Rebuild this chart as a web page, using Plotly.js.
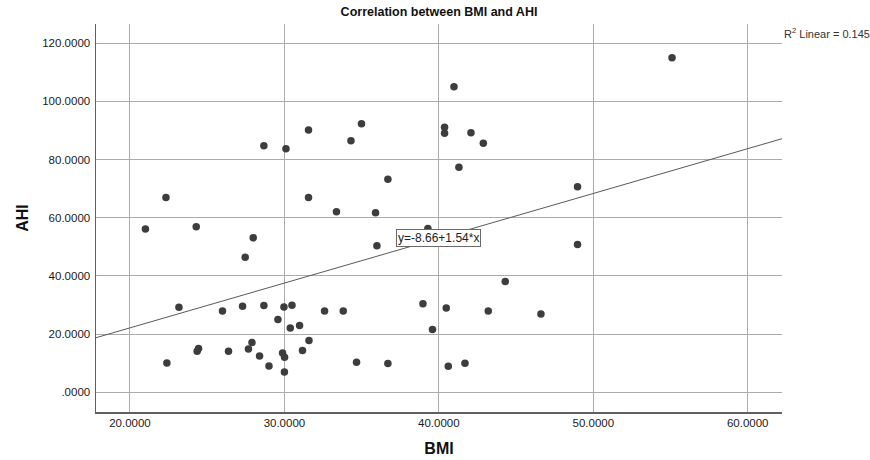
<!DOCTYPE html>
<html>
<head>
<meta charset="utf-8">
<script src="https://cdn.plot.ly/plotly-3.0.1.min.js"></script>
<style>html,body{margin:0;padding:0;background:#fff;}#chart{width:870px;height:460px;}</style>
</head>
<body>
<div id="chart"></div>
<script>
const bmi = [31.56, 34.99, 28.67, 30.10, 34.31, 36.70, 22.33, 31.56, 33.37, 35.90,
  55.10, 40.98, 40.37, 40.37, 42.08, 42.88, 41.30, 48.98, 21.00, 24.29,
  27.98, 39.29, 27.46, 35.99, 23.17, 25.99, 27.29, 28.67, 29.97, 30.49,
  32.60, 33.81, 38.97, 29.58, 30.38, 30.98, 39.59, 27.90, 31.59, 24.44,
  24.35, 26.38, 27.67, 31.17, 28.39, 29.88, 30.01, 22.39, 29.00, 30.00,
  34.67, 36.70, 48.98, 44.30, 40.48, 43.20, 46.61, 40.61, 41.69];
const ahi = [90.16, 92.33, 84.76, 83.72, 86.48, 73.19, 67.00, 67.00, 62.04, 61.70,
  115.04, 105.06, 91.09, 89.02, 89.23, 85.58, 77.32, 70.65, 56.09, 56.88,
  53.10, 56.33, 46.46, 50.34, 29.25, 27.98, 29.59, 29.83, 29.35, 29.94,
  27.98, 27.98, 30.39, 25.02, 22.13, 22.95, 21.58, 17.10, 17.79, 15.04,
  14.11, 14.11, 14.90, 14.35, 12.49, 13.52, 12.04, 10.08, 9.05, 6.99,
  10.32, 9.88, 50.83, 38.09, 29.01, 27.98, 26.94, 8.95, 9.98];

// Fit reported on the chart
const fitCoef = [-8.66, 1.54];   // intercept, slope
const rSquared = [0.145];

// Axis ticks
const xTicks = [20, 30, 40, 50, 60];
const xTickLabels = ["20.0000", "30.0000", "40.0000", "50.0000", "60.0000"];
const yTicks = [0, 20, 40, 60, 80, 100, 120];
const yTickLabels = [".0000", "20.0000", "40.0000", "60.0000", "80.0000", "100.0000", "120.0000"];

const xRange = [17.80, 62.22];
const yRange = [-6.78, 126.6];

const fitX = xRange.slice();
const fitY = fitX.map(v => fitCoef[0] + fitCoef[1] * v);
const labelX = 40;
const labelY = fitCoef[0] + fitCoef[1] * labelX;

const font = "Liberation Sans, Arial, sans-serif";

const traces = [
  {x: fitX, y: fitY, type: "scatter", mode: "lines",
   line: {color: "#5a5a5a", width: 1}, hoverinfo: "skip", showlegend: false, cliponaxis: true},
  {x: bmi, y: ahi, type: "scatter", mode: "markers",
   marker: {color: "#3d3d3d", size: 7.5, line: {width: 0}}, showlegend: false}
];

const layout = {
  width: 870, height: 460,
  margin: {l: 96, r: 88, t: 24, b: 48, pad: 0},
  paper_bgcolor: "#ffffff", plot_bgcolor: "#ffffff",
  font: {family: font, color: "#222", size: 11.5},
  title: {text: "<b>Correlation between BMI and AHI</b>", font: {family: font, size: 12.5, color: "#111"},
          x: 0.5, xanchor: "center", y: 0.975, yanchor: "middle", xref: "paper"},
  xaxis: {range: xRange, tickvals: xTicks, ticktext: xTickLabels, showgrid: true,
          gridcolor: "#ababab", gridwidth: 1, zeroline: false, showline: true,
          linecolor: "#606060", linewidth: 1.5, ticks: "", ticklabelstandoff: 0,
          tickfont: {family: font, size: 11.5, color: "#1a1a1a"},
          title: {text: "<b>BMI</b>", font: {family: font, size: 16, color: "#111"}, standoff: 14}},
  yaxis: {range: yRange, tickvals: yTicks, ticktext: yTickLabels, showgrid: true,
          gridcolor: "#ababab", gridwidth: 1, zeroline: false, showline: true,
          linecolor: "#606060", linewidth: 1.5, ticks: "", ticklabelstandoff: 2,
          tickfont: {family: font, size: 11.5, color: "#1a1a1a"},
          title: {text: "<b>AHI</b>", font: {family: font, size: 16, color: "#111"}, standoff: 9}},
  annotations: [
    {x: labelX, y: labelY, xref: "x", yref: "y", text: "y=-8.66+1.54*x", showarrow: false,
     font: {family: font, size: 12, color: "#222"}, bgcolor: "#ffffff",
     bordercolor: "#6a6a6a", borderwidth: 1, borderpad: 1, xanchor: "center", yanchor: "middle"},
    {x: 1, y: 0.977, xref: "paper", yref: "paper", xanchor: "left", yanchor: "middle",
     text: "R<sup>2</sup> Linear = " + rSquared[0].toFixed(3), showarrow: false,
     font: {family: font, size: 11, color: "#333"}}
  ]
};

Plotly.newPlot("chart", traces, layout, {staticPlot: true, displayModeBar: false});
</script>
</body>
</html>
